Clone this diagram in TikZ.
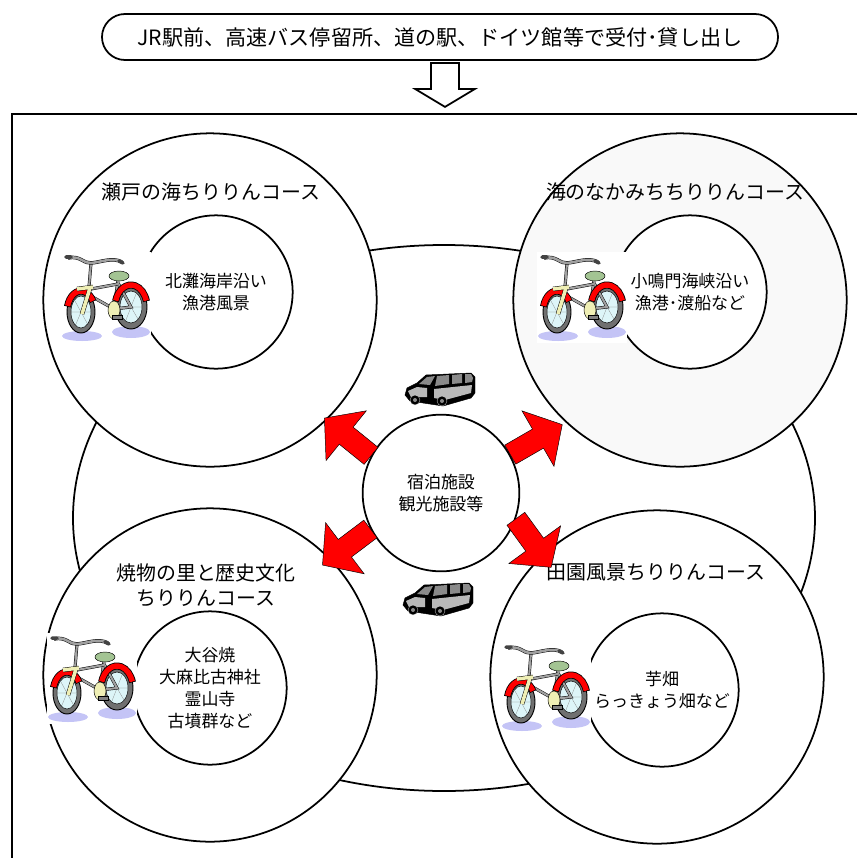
\documentclass[tikz,border=0pt]{standalone}
\usepackage{fontspec}
\setmainfont{Noto Sans CJK JP}
\usepackage{tikz}
\usetikzlibrary{positioning}
\definecolor{ringgray}{HTML}{F9F9F9}
\definecolor{shadowblue}{HTML}{C4C4F6}
\definecolor{wheelcyan}{HTML}{DDF5F8}
\definecolor{tiregray}{HTML}{707070}
\definecolor{seatgreen}{HTML}{A3C493}
\definecolor{forkyellow}{HTML}{EFEFB5}
\definecolor{framegray}{HTML}{A0A0A0}
\definecolor{vangray}{HTML}{8A8A8A}

\tikzset{
  tube/.style={draw=black, line width=.4pt, double=framegray, double distance=1.8pt},
  bicycle/.pic={
    \fill[white] (-1,-1) rectangle (89,90);
    \fill[shadowblue] (20,83) ellipse[x radius=20, y radius=5];
    \fill[shadowblue] (69,79) ellipse[x radius=19, y radius=6];
    \filldraw[fill=tiregray, draw=black, thick] (69,54) ellipse[x radius=16, y radius=22];
    \filldraw[fill=wheelcyan, draw=black] (69,54) ellipse[x radius=11, y radius=16];
    \draw[gray, very thin] (62,42) -- (76,66) (74,41) -- (64,67) (58,54) -- (80,54);
    \draw[tube] (56,30) -- (69,54) -- (52,56) -- (56,27);
    \draw[tube] (29,36) -- (56,31) (27,42) -- (52,56);
    \filldraw[fill=tiregray, draw=black, thick] (19,59) ellipse[x radius=14, y radius=21];
    \filldraw[fill=wheelcyan, draw=black] (19,59) ellipse[x radius=10, y radius=16];
    \draw[gray, very thin] (13,48) -- (25,70) (24,47) -- (14,71) (9,59) -- (29,59);
    \draw[line width=6pt] (69,54) ++(195:16 and 22) arc[start angle=195, end angle=345, x radius=16, y radius=22];
    \draw[red, line width=4.6pt] (69,54) ++(197:16 and 22) arc[start angle=197, end angle=343, x radius=16, y radius=22];
    \draw[line width=6pt] (19,59) ++(195:14 and 21) arc[start angle=195, end angle=330, x radius=14, y radius=21];
    \draw[red, line width=4.6pt] (19,59) ++(197:14 and 21) arc[start angle=197, end angle=328, x radius=14, y radius=21];
    \draw[tube] (29,10) -- (27,34);
    \draw[draw=black, line width=.4pt, double=forkyellow, double distance=3pt] (15,36) -- (31,34) (28,35) -- (20,61);
    \draw[draw=black, line width=.4pt, double=framegray, double distance=2.2pt] (6,5) .. controls (18,2) and (22,11) .. (29,10) .. controls (40,9) and (50,4) .. (60,9);
    \draw[line width=3pt, line cap=round, tiregray!60!black] (4,4) -- (9,4) (57,8) -- (61,10);
    \filldraw[fill=seatgreen, draw=black] (57,23) ellipse[x radius=10, y radius=5];
    \filldraw[fill=forkyellow, draw=black] (52,57) ellipse[x radius=6, y radius=9];
    \filldraw[fill=gray, draw=black] (50,62) rectangle (60,66);
  },
  van/.pic={
    \filldraw[fill=black] (0,22) -- (2,15) -- (12,10) -- (21,2) -- (66,0) -- (70,4) -- (70,20) -- (66,25) -- (38,33) -- (5,28) -- cycle;
    \fill[vangray] (14,11) -- (22,4) -- (30,3) -- (25,12) -- cycle;
    \fill[vangray] (32,3) -- (44,2) -- (44,11) -- (30,13) -- cycle;
    \fill[vangray] (47,2) -- (57,1) -- (57,10) -- (47,11) -- cycle;
    \fill[vangray] (60,1) -- (66,1) -- (68,5) -- (67,9) -- (60,10) -- cycle;
    \fill[vangray!60] (29,16) -- (67,12) -- (66,20) -- (40,27) -- (29,25) -- cycle;
    \fill[vangray!60] (3,18) -- (12,14) -- (22,15) -- (22,24) -- (6,24) -- cycle;
    \filldraw[fill=black, draw=white, very thin] (10,27) circle[radius=5] (37,28) circle[radius=5];
    \fill[vangray] (10,27) circle[radius=2] (37,28) circle[radius=2];
  }
}

\begin{document}
\begin{tikzpicture}[x=0.03cm, y=-0.03cm,
    every node/.style={font=\fontsize{14.5pt}{19pt}\selectfont, align=center},
    course/.style={circle, draw, line width=1.5pt, fill=white, minimum size=10cm},
    spot/.style={circle, draw, line width=1.5pt, fill=white, minimum size=4.6cm, inner sep=0pt},
    coursetitle/.style={font=\fontsize{17pt}{21pt}\selectfont},
    redarrow/.pic={\filldraw[fill=red, draw=black, thin] (0,-11) -- (32,-11) -- (32,-32) -- (60,0) -- (32,32) -- (32,11) -- (0,11) -- cycle;}]
    \useasboundingbox (0,0) rectangle (857,858);
    \node[font=\fontsize{18pt}{20pt}\selectfont, draw, line width=1.5pt, rounded corners=0.69cm,
          minimum width=20.28cm, minimum height=1.38cm] (desk) at (440,37)
          {JR駅前、高速バス停留所、道の駅、ドイツ館等で受付･貸し出し};
    \draw[line width=1.5pt] (desk.south) ++(-9,2) -- ++(0,26) -- ++(-16,0) -- ++(30,18)
          -- ++(30,-18) -- ++(-16,0) -- ++(0,-26) -- cycle;
    \draw[line width=1.8pt] (857,114) -- (12,114) -- (12,858);
    \draw[line width=1.5pt] (444,518) ellipse[x radius=371, y radius=273];

    \node[course] (seto) at (210,300) {};
    \node[course, fill=ringgray] (naka) at (680,300) {};
    \node[course] (yaki) at (210,675) {};
    \node[course] (den) at (657,677) {};
    \node[coursetitle] at (211,192) {瀬戸の海ちりりんコース};
    \node[coursetitle] at (675,192) {海のなかみちちりりんコース};
    \node[coursetitle] at (206,585) {焼物の里と歴史文化\\ちりりんコース};
    \node[coursetitle] at (656,572) {田園風景ちりりんコース};

    \node[spot] (kitanada) at (216,292) {北灘海岸沿い\\漁港風景};
    \node[spot] (konaruto) at (690,292) {小鳴門海峡沿い\\漁港･渡船など};
    \node[spot] (ootani) at (210,688) {大谷焼\\大麻比古神社\\霊山寺\\古墳群など};
    \node[spot] (imo) at (662,690) {芋畑\\らっきょう畑など};
    \node[spot, minimum size=4.7cm] (hub) at (441,493) {宿泊施設\\観光施設等};

    \pic at (62,253) {bicycle};
    \pic at (538,253) {bicycle};
    \pic at (48,634) {bicycle};
    \pic at (502,643) {bicycle};
    \pic at (405,373) {van};
    \pic at (403,583) {van};

    \pic[rotate=141] at (hub.152) {redarrow};
    \pic[rotate=30] at (hub.29) {redarrow};
    \pic[rotate=217] at (hub.207) {redarrow};
    \pic[rotate=-54] at (hub.-19) {redarrow};
\end{tikzpicture}
\end{document}
